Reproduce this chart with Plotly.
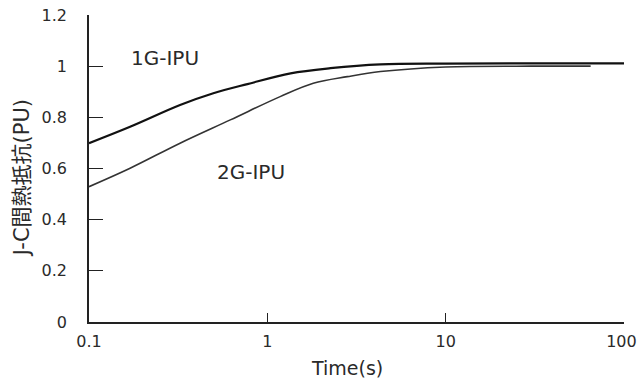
import plotly.graph_objects as go

t_1g = [0.1, 0.17, 0.324, 0.498, 0.773, 1.35, 2.26, 4.31, 10, 30, 100]
r_1g = [0.699, 0.763, 0.848, 0.894, 0.930, 0.972, 0.992, 1.007, 1.010, 1.011, 1.011]

t_2g = [0.1, 0.17, 0.324, 0.62, 1.18, 1.81, 2.81, 4.31, 10, 30, 65]
r_2g = [0.529, 0.601, 0.699, 0.790, 0.881, 0.933, 0.959, 0.979, 0.997, 1.0, 1.0]

x_ticks = [0.1, 1, 10, 100]
x_ticktext = ["0.1", "1", "10", "100&nbsp;"]
y_ticks = [0, 0.2, 0.4, 0.6, 0.8, 1, 1.2]
y_ticktext = ["0", "0.2", "0.4", "0.6", "0.8", "1", "1.2"]

x_title = "Time(s)"
y_title = "J-C間熱抵抗(PU)"

font_family = "DejaVu Sans, Noto Sans CJK JP, sans-serif"
txt_color = "#2a2a2a"

fig = go.Figure()
fig.add_trace(go.Scatter(x=t_1g, y=r_1g, mode="lines", line=dict(color="#111111", width=2.2, shape="spline"), name="1G-IPU"))
fig.add_trace(go.Scatter(x=t_2g, y=r_2g, mode="lines", line=dict(color="#333333", width=1.6, shape="spline"), name="2G-IPU"))

fig.add_annotation(x=-0.574, y=1.03, xref="x", yref="y", text="1G-IPU", showarrow=False,
                   font=dict(size=20, color=txt_color, family=font_family))
fig.add_annotation(x=-0.091, y=0.585, xref="x", yref="y", text="2G-IPU", showarrow=False,
                   font=dict(size=20, color=txt_color, family=font_family))

# axis titles
fig.add_annotation(x=0.482, y=-0.15, xref="paper", yref="paper", text=x_title, showarrow=False,
                   xanchor="center", yanchor="middle",
                   font=dict(size=19, color=txt_color, family=font_family))
fig.add_annotation(x=-0.125, y=0.469, xref="paper", yref="paper", text=y_title, showarrow=False,
                   xanchor="center", yanchor="middle",
                   textangle=-90, font=dict(size=21, color=txt_color, family=font_family))

fig.update_layout(
    width=637, height=383,
    margin=dict(l=89, r=13, t=15, b=61),
    paper_bgcolor="white", plot_bgcolor="white",
    showlegend=False,
    font=dict(family=font_family, size=16, color=txt_color),
    xaxis=dict(type="log", range=[-1, 2], tickvals=x_ticks, ticktext=x_ticktext,
               ticks="inside", ticklen=9, tickwidth=1.2, tickcolor="#222222",
               showline=True, linecolor="#222222", linewidth=1.5, showgrid=False, zeroline=False,
               ticklabelstandoff=4, automargin=False, ticklabeloverflow="allow"),
    yaxis=dict(range=[0, 1.2], tickvals=y_ticks, ticktext=y_ticktext,
               ticks="inside", ticklen=14, tickwidth=1.2, tickcolor="#222222",
               showline=True, linecolor="#222222", linewidth=1.5, showgrid=False, zeroline=False,
               ticklabelstandoff=17, automargin=False, ticklabeloverflow="allow"),
)

fig.write_html("out.html", config={"displayModeBar": False},
               post_script="document.body.style.margin='0';")
